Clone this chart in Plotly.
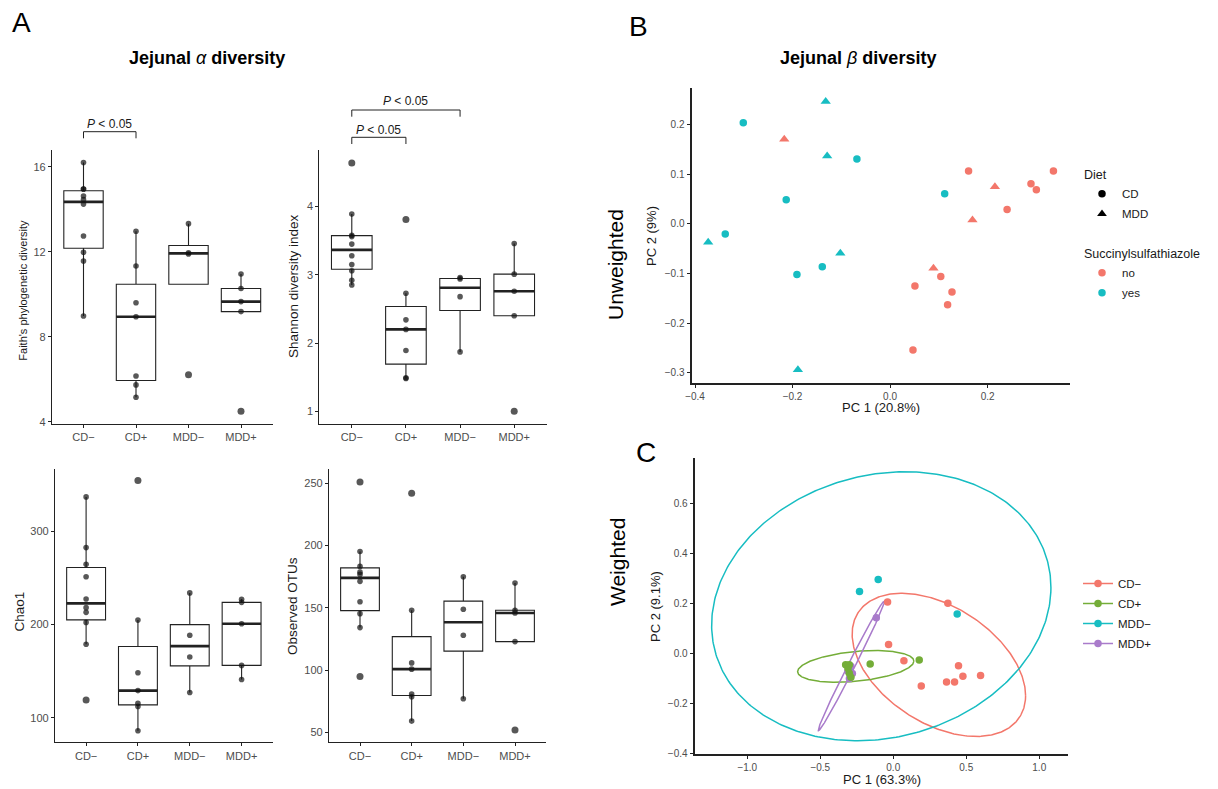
import numpy as np
import plotly.graph_objects as go

W, H = 1218, 789
FONT = "Liberation Sans, Arial, sans-serif"

# ---------------- data: panel A (alpha diversity) ----------------
groups = ["CD−", "CD+", "MDD−", "MDD+"]

faith_cd_neg = [16.2, 14.95, 14.95, 14.62, 14.45, 14.24, 12.74, 11.97, 11.56, 8.97]
faith_cd_pos = [12.96, 11.33, 9.6, 8.94, 6.15, 5.73, 5.15]
faith_mdd_neg = [13.32, 11.95, 11.89, 6.21]
faith_mdd_pos = [10.95, 10.27, 9.65, 9.18, 4.49]

shannon_cd_neg = [4.64, 3.89, 3.58, 3.56, 3.45, 3.28, 3.15, 3.06, 2.92, 2.85]
shannon_cd_pos = [3.81, 2.73, 2.34, 2.20, 1.89, 1.49, 1.48]
shannon_mdd_neg = [2.96, 2.94, 2.68, 1.87]
shannon_mdd_pos = [3.46, 3.01, 2.76, 2.40, 1.0]

chao1_cd_neg = [336.7, 282.4, 264.4, 251.1, 227.3, 218.0, 213.0, 202.2, 178.8, 119.1]
chao1_cd_pos = [354.3, 204.7, 148.2, 129.1, 115.5, 112.2, 86.0]
chao1_mdd_neg = [233.8, 188.5, 165.1, 127.0]
chao1_mdd_pos = [227.0, 223.7, 200.7, 156.1, 141.0]

otus_cd_neg = [250.8, 195.1, 183.1, 178.5, 176.7, 171.1, 154.8, 145.2, 134.0, 94.8]
otus_cd_pos = [241.7, 147.9, 105.7, 100.7, 80.7, 78.5, 59.0]
otus_mdd_neg = [174.8, 148.7, 127.9, 76.9]
otus_mdd_pos = [169.7, 147.9, 145.7, 122.8, 51.9]

faith_ticks = [4, 8, 12, 16]
shannon_ticks = [1, 2, 3, 4]
chao1_ticks = [100, 200, 300]
otus_ticks = [50, 100, 150, 200, 250]

faith_tests = [("CD−", "CD+")]
shannon_tests = [("CD−", "MDD−"), ("CD−", "CD+")]
test_label = "<i>P</i> &lt; 0.05"

# ---------------- data: panel B (unweighted PCoA) ----------------
unw_cd_no_x = [0.161, 0.289, 0.300, 0.335, 0.240, 0.104, 0.051, 0.127, 0.118, 0.047]
unw_cd_no_y = [0.107, 0.081, 0.069, 0.107, 0.029, -0.106, -0.125, -0.137, -0.163, -0.254]
unw_cd_yes_x = [-0.301, -0.213, -0.338, -0.191, -0.139, -0.068, 0.112]
unw_cd_yes_y = [0.204, 0.049, -0.020, -0.102, -0.086, 0.131, 0.061]
unw_mdd_no_x = [-0.217, 0.215, 0.169, 0.089]
unw_mdd_no_y = [0.171, 0.075, 0.008, -0.089]
unw_mdd_yes_x = [-0.132, -0.129, -0.373, -0.102, -0.189]
unw_mdd_yes_y = [0.247, 0.137, -0.037, -0.059, -0.294]

# ---------------- data: panel C (weighted PCoA) ----------------
w_cd_neg_x = [-0.039, 0.374, -0.032, 0.073, 0.447, 0.477, 0.598, 0.365, 0.420, 0.192]
w_cd_neg_y = [0.207, 0.202, 0.037, -0.028, -0.048, -0.091, -0.088, -0.114, -0.114, -0.130]
w_cd_pos_x = [0.178, -0.158, -0.326, -0.301, -0.301, -0.310, -0.290]
w_cd_pos_y = [-0.025, -0.041, -0.044, -0.044, -0.079, -0.060, -0.095]
w_mdd_neg_x = [-0.231, -0.103, 0.438, -0.300]
w_mdd_neg_y = [0.249, 0.297, 0.159, -0.060]
w_mdd_pos_x = [-0.116, -0.310, -0.300, -0.290, -0.280]
w_mdd_pos_y = [0.144, -0.070, -0.100, -0.050, -0.080]

# ellipse outlines (centre, half extents, x-y coupling)
ellipse_cx = [0.3125, -0.257, -0.082, -0.288]
ellipse_cy = [-0.045, -0.051, 0.190, -0.050]
ellipse_rx = [0.594, 0.398, 1.162, 0.226]
ellipse_ry = [0.287, 0.0635, 0.539, 0.259]
ellipse_coupling = [-0.43, 0.33, 0.14, 0.993]

# ---------------- styling ----------------
RED, GREEN, CYAN, PURPLE = "#F3776B", "#74AD38", "#17BDC2", "#A97BCB"
group_colors = [RED, GREEN, CYAN, PURPLE]
INK = "#222222"
TICKCOL = "#4D4D4D"


def fx(px):
    return px / W


def fy(py):
    return 1 - py / H


fig = go.Figure()


def box_stats(v):
    a = np.sort(np.asarray(v, float))
    q1, med, q3 = np.percentile(a, [25, 50, 75])
    iqr = q3 - q1
    lo_lim, hi_lim = q1 - 1.5 * iqr, q3 + 1.5 * iqr
    inside = a[(a >= lo_lim) & (a <= hi_lim)]
    lo = min(inside.min(), q1)
    hi = max(inside.max(), q3)
    return q1, med, q3, lo, hi, lo_lim, hi_lim


box_panels = [
    dict(s="", data=[faith_cd_neg, faith_cd_pos, faith_mdd_neg, faith_mdd_pos]),
    dict(s="2", data=[shannon_cd_neg, shannon_cd_pos, shannon_mdd_neg, shannon_mdd_pos]),
    dict(s="3", data=[chao1_cd_neg, chao1_cd_pos, chao1_mdd_neg, chao1_mdd_pos]),
    dict(s="4", data=[otus_cd_neg, otus_cd_pos, otus_mdd_neg, otus_mdd_pos]),
]

BOXW = 0.75
for p in box_panels:
    xa, ya = "x" + p["s"], "y" + p["s"]
    stats = [box_stats(v) for v in p["data"]]
    pos = list(range(len(groups)))
    fig.add_trace(go.Box(
        x=pos,
        q1=[s[0] for s in stats], median=[s[1] for s in stats], q3=[s[2] for s in stats],
        lowerfence=[s[3] for s in stats], upperfence=[s[4] for s in stats],
        width=BOXW, whiskerwidth=0, fillcolor="white",
        line=dict(color=INK, width=1.1), boxpoints=False,
        xaxis=xa, yaxis=ya, showlegend=False, hoverinfo="skip",
    ))
    mx, my = [], []
    for i, s in enumerate(stats):
        mx += [i - BOXW / 2, i + BOXW / 2, None]
        my += [s[1], s[1], None]
    fig.add_trace(go.Scatter(x=mx, y=my, mode="lines", line=dict(color=INK, width=2.6),
                             xaxis=xa, yaxis=ya, showlegend=False, hoverinfo="skip"))
    px_, py_, sz = [], [], []
    for i, (v, s) in enumerate(zip(p["data"], stats)):
        for val in v:
            px_.append(i)
            py_.append(val)
            sz.append(7 if (val < s[5] or val > s[6]) else 5.6)
    fig.add_trace(go.Scatter(x=px_, y=py_, mode="markers",
                             marker=dict(color="#111111", size=sz, line=dict(width=0)),
                             xaxis=xa, yaxis=ya, showlegend=False, hoverinfo="skip"))

# ---------------- panel B traces ----------------
b_sets = [
    (unw_cd_no_x, unw_cd_no_y, RED, "circle", 7.5),
    (unw_cd_yes_x, unw_cd_yes_y, CYAN, "circle", 7.5),
    (unw_mdd_no_x, unw_mdd_no_y, RED, "triangle-up", 9),
    (unw_mdd_yes_x, unw_mdd_yes_y, CYAN, "triangle-up", 9),
]
for xs, ys, col, sym, size in b_sets:
    fig.add_trace(go.Scatter(x=xs, y=ys, mode="markers",
                             marker=dict(color=col, symbol=sym, size=size, line=dict(width=0)),
                             xaxis="x5", yaxis="y5", showlegend=False))

# legend entries for B
for name, sym in [("CD", "circle"), ("MDD", "triangle-up")]:
    fig.add_trace(go.Scatter(x=[None], y=[None], mode="markers", name=name, legendgroup=name,
                             marker=dict(color="black", symbol=sym, size=7.5 if sym == "circle" else 8.5),
                             xaxis="x5", yaxis="y5", legend="legend"))
for name, col in [("no", RED), ("yes", CYAN)]:
    fig.add_trace(go.Scatter(x=[None], y=[None], mode="markers", name=name, legendgroup=name,
                             marker=dict(color=col, symbol="circle", size=7.5),
                             xaxis="x5", yaxis="y5", legend="legend2"))

# ---------------- panel C traces ----------------
t = np.linspace(0, 2 * np.pi, 361)
for k in range(len(groups)):
    phi = np.arccos(ellipse_coupling[k])
    ex = ellipse_cx[k] + ellipse_rx[k] * np.cos(t)
    ey = ellipse_cy[k] + ellipse_ry[k] * np.cos(t - phi)
    fig.add_trace(go.Scatter(x=ex, y=ey, mode="lines", line=dict(color=group_colors[k], width=1.5),
                             xaxis="x6", yaxis="y6", showlegend=False, hoverinfo="skip"))

c_sets = [
    (w_mdd_neg_x, w_mdd_neg_y, CYAN),
    (w_mdd_pos_x, w_mdd_pos_y, PURPLE),
    (w_cd_pos_x, w_cd_pos_y, GREEN),
    (w_cd_neg_x, w_cd_neg_y, RED),
]
for xs, ys, col in c_sets:
    fig.add_trace(go.Scatter(x=xs, y=ys, mode="markers",
                             marker=dict(color=col, size=7.5, line=dict(width=0)),
                             xaxis="x6", yaxis="y6", showlegend=False))

for k, g in enumerate(groups):
    fig.add_trace(go.Scatter(x=[None], y=[None], mode="lines+markers", name=g, legendgroup=g,
                             line=dict(color=group_colors[k], width=1.5),
                             marker=dict(color=group_colors[k], size=7.5),
                             xaxis="x6", yaxis="y6", legend="legend3"))

# ---------------- axes ----------------
def base_axis(**kw):
    d = dict(showline=True, linecolor=INK, linewidth=1.2, ticks="outside", ticklen=3,
             tickwidth=1, tickcolor=INK, showgrid=False, zeroline=False, automargin=False,
             tickfont=dict(family=FONT, size=11, color=TICKCOL), fixedrange=True)
    d.update(kw)
    return d


cat_x = dict(range=[-0.6, 3.6], tickvals=list(range(len(groups))), ticktext=groups)
pc_tick = dict(family=FONT, size=10, color=TICKCOL)

layout_axes = dict(
    xaxis=base_axis(domain=[fx(52), fx(272.5)], anchor="y", **cat_x),
    yaxis=base_axis(domain=[fy(423.8), fy(149.7)], anchor="x", range=[3.9, 16.8], tickvals=faith_ticks),
    xaxis2=base_axis(domain=[fx(319.3), fx(546.7)], anchor="y2", **cat_x),
    yaxis2=base_axis(domain=[fy(423.5), fy(150)], anchor="x2", range=[0.82, 4.83], tickvals=shannon_ticks),
    xaxis3=base_axis(domain=[fx(55), fx(272.7)], anchor="y3", **cat_x),
    yaxis3=base_axis(domain=[fy(742.3), fy(469.3)], anchor="x3", range=[73.7, 366.3], tickvals=chao1_ticks),
    xaxis4=base_axis(domain=[fx(329), fx(546)], anchor="y4", **cat_x),
    yaxis4=base_axis(domain=[fy(742.3), fy(469.3)], anchor="x4", range=[42, 261], tickvals=otus_ticks),
    xaxis5=base_axis(domain=[fx(691.6), fx(1070)], anchor="y5", range=[-0.407, 0.369],
                     tickvals=[-0.4, -0.2, 0.0, 0.2], tickformat=".1f", linewidth=2.2, tickfont=pc_tick),
    yaxis5=base_axis(domain=[fy(383.2), fy(88.1)], anchor="x5", range=[-0.321, 0.274],
                     tickvals=[-0.3, -0.2, -0.1, 0.0, 0.1, 0.2], tickformat=".1f", linewidth=2.2,
                     tickfont=pc_tick),
    xaxis6=base_axis(domain=[fx(694.7), fx(1068)], anchor="y6", range=[-1.36, 1.197],
                     tickvals=[-1.0, -0.5, 0.0, 0.5, 1.0], tickformat=".1f", linewidth=2.2, tickfont=pc_tick),
    yaxis6=base_axis(domain=[fy(754.2), fy(458.3)], anchor="x6", range=[-0.403, 0.783],
                     tickvals=[-0.4, -0.2, 0.0, 0.2, 0.4, 0.6], tickformat=".1f", linewidth=2.2,
                     tickfont=pc_tick),
)

# ---------------- text ----------------
def ann(text, px, py, size, angle=0, color="black", **kw):
    return dict(text=text, x=fx(px), y=fy(py), xref="paper", yref="paper",
                xanchor="center", yanchor="middle", showarrow=False, textangle=angle,
                font=dict(family=FONT, size=size, color=color), **kw)


annotations = [
    ann("A", 21, 22, 28),
    ann("B", 638, 27, 28),
    ann("C", 646, 452, 28),
    ann("<b>Jejunal</b> <i>α</i> <b>diversity</b>", 207.5, 58, 18),
    ann("<b>Jejunal</b> <i>β</i> <b>diversity</b>", 858, 58, 18),
    ann("Unweighted", 615, 265, 21, angle=-90),
    ann("Weighted", 617, 562, 21, angle=-90),
    ann("Faith's phylogenetic diversity", 22.7, 290, 11, angle=-90, color="#1a1a1a"),
    ann("Shannon diversity index", 293, 286, 13.5, angle=-90, color="#1a1a1a"),
    ann("Chao1", 18.5, 612, 13.5, angle=-90, color="#1a1a1a"),
    ann("Observed OTUs", 292, 606, 13.5, angle=-90, color="#1a1a1a"),
    ann("PC 1 (20.8%)", 880.5, 407, 13, color="#1a1a1a"),
    ann("PC 2 (9%)", 652, 236, 13, angle=-90, color="#1a1a1a"),
    ann("PC 1 (63.3%)", 881.7, 779.5, 13, color="#1a1a1a"),
    ann("PC 2 (9.1%)", 655, 607, 13, angle=-90, color="#1a1a1a"),
]

# significance brackets (line level, tick bottom, label level in pixels)
shapes = []
bracket_specs = [
    ("x", faith_tests, [(131.7, 138.3, 124.5)], (52, 272.5)),
    ("x2", shannon_tests, [(110, 116.7, 101), (137.3, 144, 130)], (319.3, 546.7)),
]
for xa, tests, levels, (d0, d1) in bracket_specs:
    step = (d1 - d0) / 4.2
    for (g1, g2), (ly, lb, ty) in zip(tests, levels):
        i1, i2 = groups.index(g1), groups.index(g2)
        shapes.append(dict(type="path", xref=xa, yref="paper",
                           path=f"M {i1},{fy(lb)} L {i1},{fy(ly)} L {i2},{fy(ly)} L {i2},{fy(lb)}",
                           line=dict(color=INK, width=1)))
        cx_px = d0 + ((i1 + i2) / 2 + 0.6) * step
        annotations.append(ann(test_label, cx_px, ty, 12, color="#1a1a1a"))

leg_common = dict(xanchor="left", yanchor="top", bgcolor="rgba(0,0,0,0)",
                  font=dict(family=FONT, size=11.5, color="#1a1a1a"), tracegroupgap=1,
                  itemclick=False, itemdoubleclick=False)

fig.update_layout(
    width=W, height=H, autosize=False,
    margin=dict(l=0, r=0, t=0, b=0, pad=0),
    paper_bgcolor="white", plot_bgcolor="white",
    font=dict(family=FONT, color="#1a1a1a"),
    annotations=annotations, shapes=shapes,
    legend=dict(x=fx(1082), y=fy(163), title=dict(text="Diet", font=dict(family=FONT, size=12.5)),
                **leg_common),
    legend2=dict(x=fx(1082), y=fy(242),
                 title=dict(text="Succinylsulfathiazole", font=dict(family=FONT, size=12.5)),
                 **leg_common),
    legend3=dict(x=fx(1078), y=fy(569), **leg_common),
    hovermode=False,
    **layout_axes,
)

fig.write_html("out.html", config={"displayModeBar": False},
               post_script="document.body.style.margin='0px';")
